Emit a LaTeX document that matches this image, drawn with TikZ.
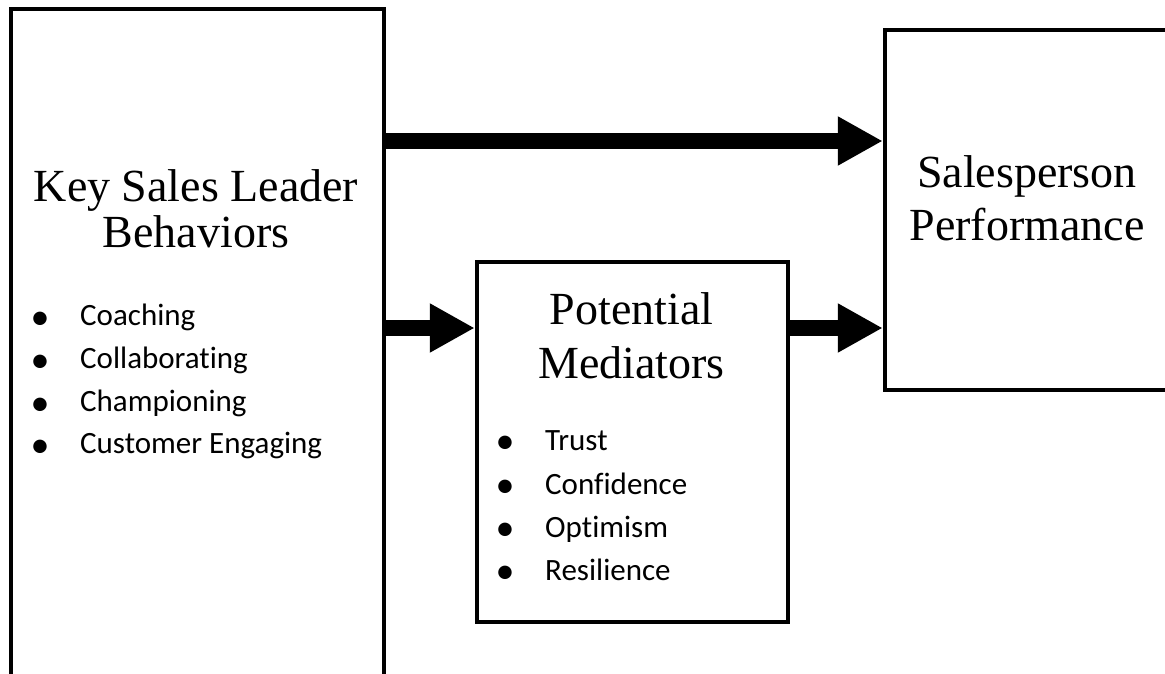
\documentclass[tikz,border=0pt]{standalone}
\usepackage{fontspec}
\setmainfont{Liberation Serif}
\newfontfamily\bodyfont[Ligatures=NoCommon]{Carlito}
\usetikzlibrary{arrows.meta}
\begin{document}
\begin{tikzpicture}[x=1pt,y=-1pt,
  boxnode/.style={draw, line width=4.5pt, rectangle, inner sep=0pt, fill=white},
  titletext/.style={anchor=base, inner sep=0pt, font=\fontsize{46}{47}\selectfont},
  itemtext/.style={anchor=base west, inner sep=0pt, font=\bodyfont\fontsize{31}{36}\selectfont},
  bulletdot/.style={anchor=base, inner sep=0pt, font=\bodyfont\fontsize{38}{38}\selectfont},
  bigarrow/.style={line width=16pt, -{Triangle[length=45pt,width=46pt]}}]
\useasboundingbox (0,0) rectangle (1165,674);
\fill[white] (0,0) rectangle (1165,674);
\begin{scope}
\clip (0,0) rectangle (1165,674);
\node[boxnode, minimum width=373pt, minimum height=711pt] (left) at (197.5,364.5) {};
\node[boxnode, minimum width=330pt, minimum height=360pt] (right) at (1050,210) {};
\end{scope}
\node[boxnode, minimum width=311pt, minimum height=360pt] (mid) at (632.5,442) {};
% level coordinates for arrows
\coordinate (toplevel) at (0,141);
\coordinate (midlevel) at (0,328);
\draw[bigarrow] (left.east |- toplevel) -- (right.west |- toplevel);
\draw[bigarrow] (left.east |- midlevel) -- (mid.west |- midlevel);
\draw[bigarrow] (mid.east |- midlevel) -- (right.west |- midlevel);
% left box texts
\node[titletext] (lt1) at (196,201) {Key Sales Leader};
\node[titletext] (lt2) at (196,247) {Behaviors};
\node[bulletdot] (lb1) at (40,329) {•};
\node[itemtext] (li1) at (80,325) {Coaching};
\node[bulletdot] (lb2) at (40,372) {•};
\node[itemtext] (li2) at (80,368) {Collaborating};
\node[bulletdot] (lb3) at (40,415) {•};
\node[itemtext] (li3) at (80,411) {Championing};
\node[bulletdot] (lb4) at (40,457) {•};
\node[itemtext] (li4) at (80,453) {Customer Engaging};
% middle box texts
\node[titletext] (mt1) at (631.5,324) {Potential};
\node[titletext] (mt2) at (631.5,378) {Mediators};
\node[bulletdot] (mb1) at (505,453.5) {•};
\node[itemtext] (mi1) at (545,450) {Trust};
\node[bulletdot] (mb2) at (505,497.5) {•};
\node[itemtext] (mi2) at (545,494) {Confidence};
\node[bulletdot] (mb3) at (505,540.5) {•};
\node[itemtext] (mi3) at (545,537) {Optimism};
\node[bulletdot] (mb4) at (505,583.5) {•};
\node[itemtext] (mi4) at (545,580) {Resilience};
% right box texts
\node[titletext] (rt1) at (1027,187) {Salesperson};
\node[titletext] (rt2) at (1027,240) {Performance};
\end{tikzpicture}
\end{document}
